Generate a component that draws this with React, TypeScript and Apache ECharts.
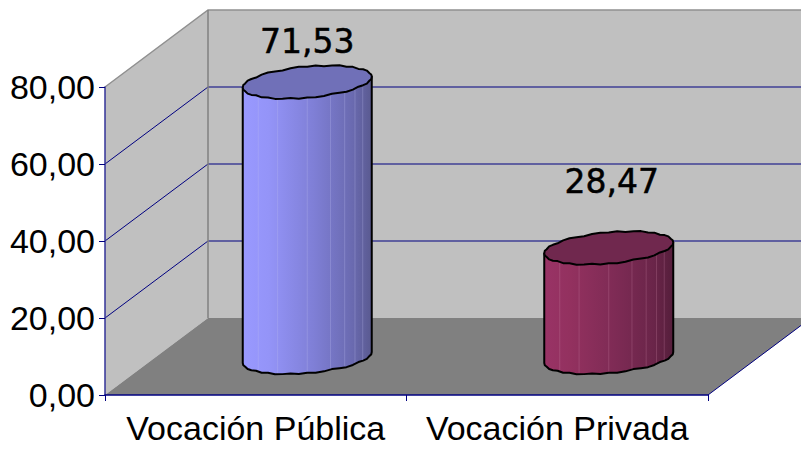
import React, { useEffect, useRef } from "react";
import * as echarts from "echarts";

const categories = ["Vocación Pública", "Vocación Privada"];
const values = [71.53, 28.47];
const valueTicks = [0, 20, 40, 60, 80];
const innerGridValues = [20, 40, 60];

const DEPTH_X = 103;
const DEPTH_Y = 77;
const WIDTH = 801;
const NAVY = "#000080";
const FONT = "Liberation Sans";
const LABEL_FONT = "DejaVu Sans";

const barStyles = [
  {
    cap: "#7070b8",
    stops: ["#9999ff", "#9494f8", "#7f7fd6", "#6a6ab0", "#5a5a90"],
    seam: "rgba(190,190,240,0.28)",
  },
  {
    cap: "#70284e",
    stops: ["#993366", "#93315f", "#7e2b55", "#6a2549", "#551e3b"],
    seam: "rgba(200,130,165,0.28)",
  },
];
const labelOffsets = [
  [0, -41],
  [3, -66],
];
const wobble = [
  0, 0.5, -0.3, 0.6, 0.1, -0.5, 0.4, 0.7, 0, -0.6, 0.3, 0.6, -0.2, 0.5, -0.5, 0.2, 0.6, -0.3, 0.4, -0.6, 0.3, 0.5, -0.4, 0.2,
  0, -0.5, 0.3, -0.6, -0.1, 0.5, -0.4, -0.7, 0, 0.6, -0.3, -0.6, 0.2, -0.5, 0.5, -0.2, -0.6, 0.3, -0.4, 0.6, -0.3, -0.5, 0.4, -0.2,
];
const seams = [0.12, 0.27, 0.5, 0.68, 0.79, 0.87, 0.93];

const A_X = 64.5;
const A_Y = 5.5;
const B_Y = 15.5;

function rim(cx: number, cy: number, i: number, n: number) {
  const t = (i / n) * Math.PI * 2;
  return [cx + A_X * Math.cos(t), cy - A_Y * Math.cos(t) + B_Y * Math.sin(t) + wobble[i % n]];
}

function renderWalls(params: any, api: any) {
  const cs = params.coordSys;
  const left = cs.x;
  const floorY = cs.y + cs.height;
  const right = cs.x + cs.width;
  const backX = left + DEPTH_X;
  const yOf = (v: number) => api.coord([0, v])[1];
  const top = yOf(80);
  const edgeY = floorY - ((WIDTH - right) * DEPTH_Y) / DEPTH_X;
  const children: any[] = [
    {
      type: "polygon",
      shape: { points: [[backX, top - DEPTH_Y], [WIDTH, top - DEPTH_Y], [WIDTH, floorY - DEPTH_Y], [backX, floorY - DEPTH_Y]] },
      style: { fill: "#c0c0c0" },
    },
    {
      type: "polygon",
      shape: { points: [[left, top], [backX, top - DEPTH_Y], [backX, floorY - DEPTH_Y], [left, floorY]] },
      style: { fill: "#c0c0c0" },
    },
    {
      type: "polygon",
      shape: { points: [[left, floorY], [right, floorY], [WIDTH, edgeY], [WIDTH, floorY - DEPTH_Y], [backX, floorY - DEPTH_Y]] },
      style: { fill: "#808080" },
    },
  ];
  innerGridValues.forEach((v) => {
    const y = yOf(v);
    children.push({
      type: "polyline",
      shape: { points: [[left, y], [backX, y - DEPTH_Y], [WIDTH, y - DEPTH_Y]] },
      style: { fill: "none", stroke: NAVY, lineWidth: 1 },
    });
  });
  children.push(
    {
      type: "polyline",
      shape: { points: [[left, top], [backX, top - DEPTH_Y], [WIDTH, top - DEPTH_Y]] },
      style: { fill: "none", stroke: "#909090", lineWidth: 1.5 },
    },
    {
      type: "line",
      shape: { x1: backX, y1: top - DEPTH_Y, x2: backX, y2: floorY - DEPTH_Y },
      style: { stroke: "#808080", lineWidth: 1.5 },
    },
    {
      type: "line",
      shape: { x1: right, y1: floorY, x2: WIDTH, y2: edgeY },
      style: { stroke: NAVY, lineWidth: 1 },
    },
  );
  return { type: "group", children };
}

function renderCylinder(params: any, api: any) {
  const i = params.dataIndex;
  const value = api.value(1);
  const base = api.coord([api.value(0), 0]);
  const head = api.coord([api.value(0), value]);
  const cx = base[0] + DEPTH_X / 2;
  const offset = 37.5;
  const baseY = base[1] - offset;
  const headY = head[1] - offset;
  const n = wobble.length;
  const s = barStyles[i];

  const capPts: number[][] = [];
  for (let k = 0; k < n; k++) capPts.push(rim(cx, headY, k, n));

  const bodyPts: number[][] = [[cx + A_X, headY - A_Y]];
  for (let k = 0; k <= n / 2; k++) bodyPts.push(rim(cx, baseY, k, n));
  bodyPts.push([cx - A_X, headY + A_Y]);

  const children: any[] = [
    {
      type: "polygon",
      shape: { points: bodyPts },
      style: {
        fill: new echarts.graphic.LinearGradient(0, 0, 1, 0, [
          { offset: 0, color: s.stops[0] },
          { offset: 0.2, color: s.stops[1] },
          { offset: 0.55, color: s.stops[2] },
          { offset: 0.85, color: s.stops[3] },
          { offset: 1, color: s.stops[4] },
        ]),
      },
    },
  ];
  seams.forEach((f) => {
    const x = cx - A_X + f * 2 * A_X;
    const rel = (x - cx) / A_X;
    const sn = Math.sqrt(Math.max(0, 1 - rel * rel));
    children.push({
      type: "line",
      shape: {
        x1: x,
        y1: headY - A_Y * rel + B_Y * sn,
        x2: x,
        y2: baseY - A_Y * rel + B_Y * sn,
      },
      style: { stroke: s.seam, lineWidth: 1 },
    });
  });
  children.push(
    {
      type: "polygon",
      shape: { points: bodyPts },
      style: { fill: "none", stroke: "#000", lineWidth: 2, lineJoin: "round" },
    },
    {
      type: "polygon",
      shape: { points: capPts },
      style: { fill: s.cap, stroke: "#000", lineWidth: 2, lineJoin: "round" },
    },
    {
      type: "text",
      style: {
        x: cx + labelOffsets[i][0],
        y: headY + labelOffsets[i][1],
        text: value.toFixed(2).replace(".", ","),
        fill: "#000",
        stroke: "#000",
        lineWidth: 0.5,
        font: `33px "${LABEL_FONT}"`,
        align: "center",
        verticalAlign: "middle",
      },
    },
  );
  return { type: "group", children };
}

export default function App() {
  const ref = useRef<HTMLDivElement>(null);
  useEffect(() => {
    const chart = echarts.init(ref.current!, null, { renderer: "svg" });
    chart.setOption({
      animation: false,
      backgroundColor: "#ffffff",
      grid: { left: 105, right: 93, top: 87, bottom: 54, containLabel: false },
      xAxis: {
        type: "category",
        data: categories,
        z: 5,
        axisLine: { lineStyle: { color: NAVY, width: 1.5 } },
        axisTick: { show: true, length: 6, lineStyle: { color: NAVY } },
        axisLabel: { color: "#000", fontFamily: FONT, fontSize: 34, margin: 16, interval: 0 },
        splitLine: { show: false },
      },
      yAxis: {
        type: "value",
        min: 0,
        max: valueTicks[valueTicks.length - 1],
        interval: 20,
        z: 5,
        axisLine: { show: true, lineStyle: { color: "#333399", width: 1.5 } },
        axisTick: { show: true, length: 6, lineStyle: { color: NAVY } },
        axisLabel: {
          color: "#000",
          fontFamily: FONT,
          fontSize: 34,
          margin: 10,
          padding: [3, 0, 0, 0],
          formatter: (v: number) => v.toFixed(2).replace(".", ","),
        },
        splitLine: { show: false },
      },
      series: [
        {
          type: "custom",
          z: 1,
          renderItem: renderWalls,
          data: [[0, 0]],
          encode: { x: 0, y: 1 },
          silent: true,
        },
        {
          type: "custom",
          z: 3,
          renderItem: renderCylinder,
          data: values.map((v, i) => [i, v]),
          encode: { x: 0, y: 1 },
          silent: true,
        },
      ],
    });
    return () => chart.dispose();
  }, []);
  return (
    <div
      ref={ref}
      style={{ position: "fixed", left: 0, top: 0, width: 801, height: 449 }}
    />
  );
}
